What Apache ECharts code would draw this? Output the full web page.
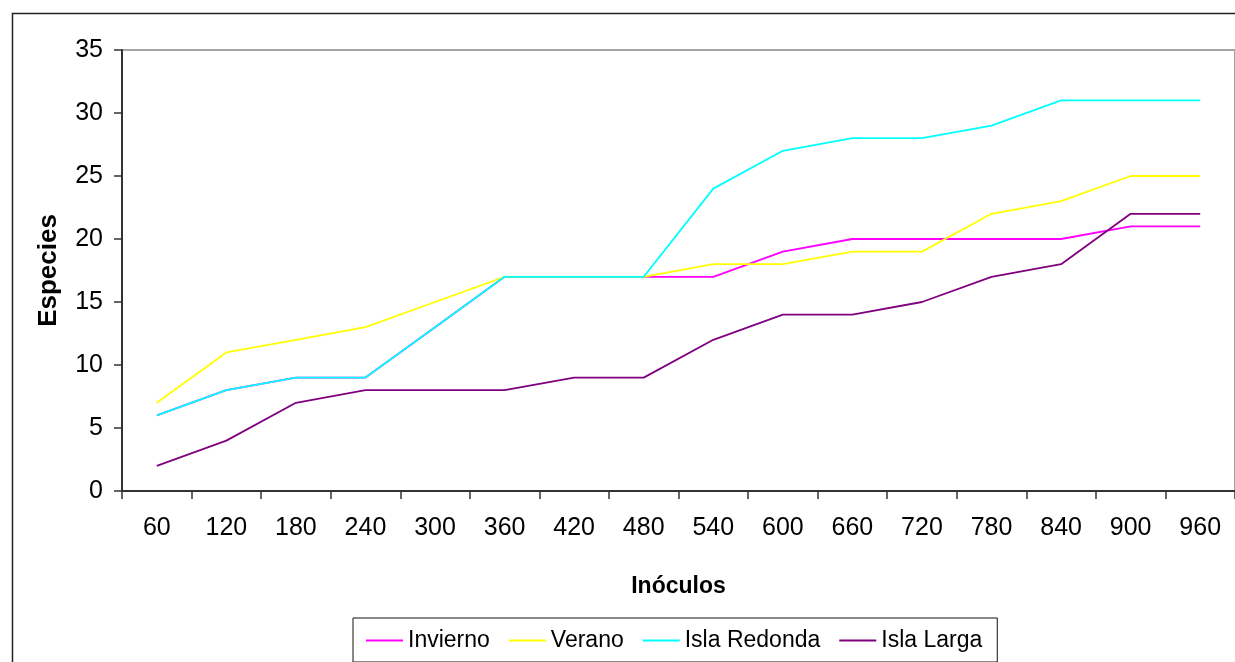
<!DOCTYPE html>
<html>
<head>
<meta charset="utf-8">
<script src="https://cdn.jsdelivr.net/npm/echarts@6/dist/echarts.min.js"></script>
<style>
  html, body { margin: 0; padding: 0; background: #fff; }
  #chart { width: 1235px; height: 662px; }
</style>
</head>
<body>
<div id="chart"></div>
<script>
// Sample sizes (inoculum counts) along the x axis
const inoculos = ['60', '120', '180', '240', '300', '360', '420', '480', '540', '600', '660', '720', '780', '840', '900', '960'];

// Cumulative species count for each sampling group
const invierno    = [6, 8, 9, 9, 13, 17, 17, 17, 17, 19, 20, 20, 20, 20, 21, 21];
const verano      = [7, 11, 12, 13, 15, 17, 17, 17, 18, 18, 19, 19, 22, 23, 25, 25];
const islaRedonda = [6, 8, 9, 9, 13, 17, 17, 17, 24, 27, 28, 28, 29, 31, 31, 31];
const islaLarga   = [2, 4, 7, 8, 8, 8, 9, 9, 12, 14, 14, 15, 17, 18, 22, 22];

const seriesNames = ['Invierno', 'Verano', 'Isla Redonda', 'Isla Larga'];
const seriesData = [invierno, verano, islaRedonda, islaLarga];
const seriesColors = ['#FF00FF', '#FFFF00', '#00FFFF', '#800080'];

const FONT = '"Liberation Sans", Arial, sans-serif';

const chart = echarts.init(document.getElementById('chart'), null, { renderer: 'canvas' });

chart.setOption({
  animation: false,
  backgroundColor: '#ffffff',
  graphic: [{
    type: 'rect',
    left: 10, top: 11,
    shape: { width: 1300, height: 700 },
    style: { fill: 'none', stroke: '#222', lineWidth: 1.5 },
    silent: true
  }],
  grid: {
    left: 122, top: 50, width: 1117, height: 441,
    show: true, borderColor: '#888', borderWidth: 1.5, backgroundColor: 'transparent'
  },
  legend: {
    left: 353, top: 618,
    padding: [11, 15, 10, 13],
    borderColor: '#111', borderWidth: 1,
    itemWidth: 37, itemHeight: 14, itemGap: 19,
    icon: 'path://M0,6 L37,6 L37,8 L0,8 Z',
    textStyle: { fontFamily: FONT, fontSize: 23, color: '#000' },
    data: seriesNames
  },
  xAxis: {
    type: 'category',
    data: inoculos,
    boundaryGap: true,
    name: 'Inóculos',
    nameLocation: 'middle',
    nameGap: 84,
    nameTextStyle: { fontFamily: FONT, fontSize: 23, fontWeight: 'bold', color: '#000' },
    axisLine: { lineStyle: { color: '#333', width: 2 } },
    axisTick: { show: true, inside: false, length: 8, lineStyle: { color: '#333', width: 1.5 } },
    axisLabel: { fontFamily: FONT, fontSize: 25, color: '#000', margin: 25, interval: 0 },
    splitLine: { show: false }
  },
  yAxis: {
    type: 'value',
    min: 0, max: 35, interval: 5,
    name: 'Especies',
    nameLocation: 'middle',
    nameGap: 60,
    nameTextStyle: { fontFamily: FONT, fontSize: 26, fontWeight: 'bold', color: '#000' },
    axisLine: { show: true, lineStyle: { color: '#333', width: 2 } },
    axisTick: { show: true, inside: false, length: 8, lineStyle: { color: '#333', width: 1.5 } },
    axisLabel: { fontFamily: FONT, fontSize: 25, color: '#000', margin: 19 },
    splitLine: { show: false }
  },
  series: seriesNames.map((name, i) => ({
    name: name,
    type: 'line',
    data: seriesData[i],
    symbol: 'none',
    color: seriesColors[i],
    lineStyle: { color: seriesColors[i], width: 1.8 },
    z: 2 + i
  }))
});
</script>
</body>
</html>
